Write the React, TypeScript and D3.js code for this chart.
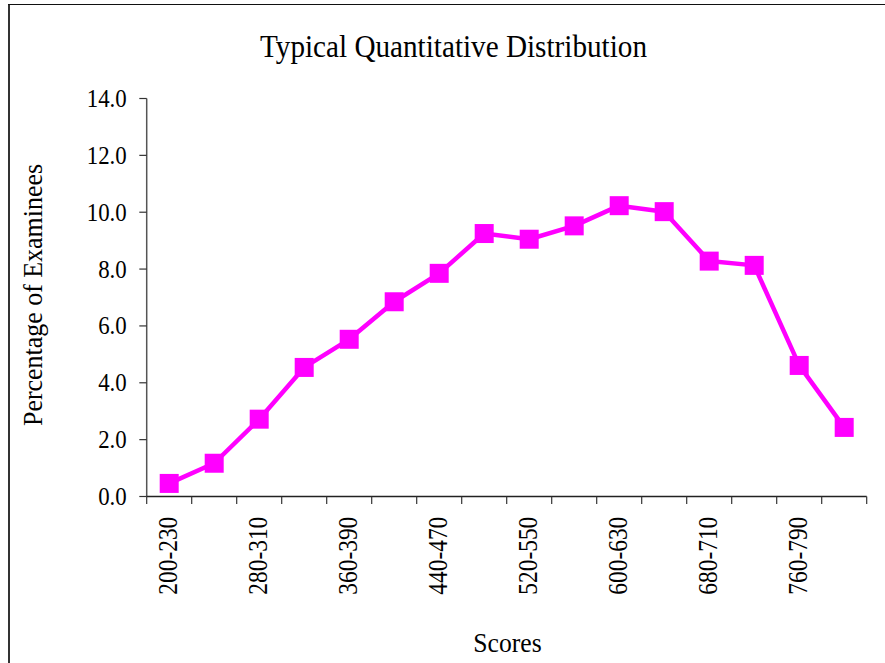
import React from "react";
import * as d3 from "d3";

const categories = [
  "200-230", "240-270", "280-310", "320-350", "360-390", "400-430",
  "440-470", "480-510", "520-550", "560-590", "600-630", "640-670",
  "680-710", "720-750", "760-790", "800",
];
const values = [0.46, 1.17, 2.72, 4.54, 5.53, 6.85, 7.85, 9.25, 9.05, 9.52, 10.23, 10.02, 8.28, 8.13, 4.61, 2.43];
const yTicks = [0, 2, 4, 6, 8, 10, 12, 14];
const title = "Typical Quantitative Distribution";
const yTitle = "Percentage of Examinees";
const xTitle = "Scores";

const FONT = "'Liberation Serif', 'Times New Roman', serif";
const MAGENTA = "#FF00FF";

export default function App() {
  const x = d3.scaleBand<string>().domain(categories).range([146.7, 866.7]).padding(0);
  const y = d3.scaleLinear().domain([0, 14]).range([496.5, 98.5]);
  const bw = x.bandwidth();
  const cx = (c: string) => (x(c) as number) + bw / 2;
  const line = d3
    .line<number>()
    .x((_, i) => cx(categories[i]))
    .y((d) => y(d));
  const boundaries = categories.map((c) => x(c) as number).concat([x.range()[1]]);
  const ms = 19;

  return (
    <svg
      width={885}
      height={663}
      style={{ position: "absolute", left: 0, top: 0, background: "#fff" }}
      fontFamily={FONT}
    >
      <rect x={0} y={0} width={885} height={663} fill="#fff" />
      {/* frame */}
      <line x1={9} x2={9} y1={4} y2={663} stroke="#333" strokeWidth={2} />
      <line x1={8} x2={885} y1={4.5} y2={4.5} stroke="#111" strokeWidth={1.2} />

      {/* title */}
      <text x={453.5} y={57} fontSize={32} textAnchor="middle" textLength={387} lengthAdjust="spacingAndGlyphs" fill="#000">
        {title}
      </text>

      {/* y axis */}
      <line x1={146.7} x2={146.7} y1={y(14)} y2={y(0)} stroke="#555" strokeWidth={1.5} />
      {yTicks.map((t) => (
        <g key={t}>
          <line x1={139.3} x2={146.7} y1={y(t)} y2={y(t)} stroke="#333" strokeWidth={1.2} />
          <text
            transform={`translate(126.7,${y(t) + 8.5}) scale(0.914,1)`}
            fontSize={25}
            textAnchor="end"
            fill="#000"
          >
            {t.toFixed(1)}
          </text>
        </g>
      ))}

      {/* x axis */}
      <line x1={146.7} x2={866.7} y1={y(0)} y2={y(0)} stroke="#222" strokeWidth={1.5} />
      {boundaries.map((b, i) => (
        <line key={i} x1={b} x2={b} y1={y(0)} y2={504} stroke="#333" strokeWidth={1.2} />
      ))}
      {categories.map((c, i) =>
        i % 2 === 0 ? (
          <text
            key={c}
            transform={`translate(${cx(c) + 8},516.7) rotate(-90)`}
            fontSize={27}
            textAnchor="end"
            textLength={78}
            lengthAdjust="spacingAndGlyphs"
            fill="#000"
          >
            {c}
          </text>
        ) : null
      )}

      {/* axis titles */}
      <text
        transform={`translate(42,295) rotate(-90)`}
        fontSize={27}
        textAnchor="middle"
        textLength={262}
        lengthAdjust="spacingAndGlyphs"
        fill="#000"
      >
        {yTitle}
      </text>
      <text x={507.5} y={651.7} fontSize={26.5} textAnchor="middle" textLength={68.4} lengthAdjust="spacingAndGlyphs" fill="#000">
        {xTitle}
      </text>

      {/* series */}
      <path d={line(values) || ""} fill="none" stroke={MAGENTA} strokeWidth={4.5} strokeLinejoin="round" />
      {values.map((v, i) => (
        <rect
          key={i}
          x={cx(categories[i]) - ms / 2}
          y={y(v) - ms / 2}
          width={ms}
          height={ms}
          fill={MAGENTA}
        />
      ))}
    </svg>
  );
}
